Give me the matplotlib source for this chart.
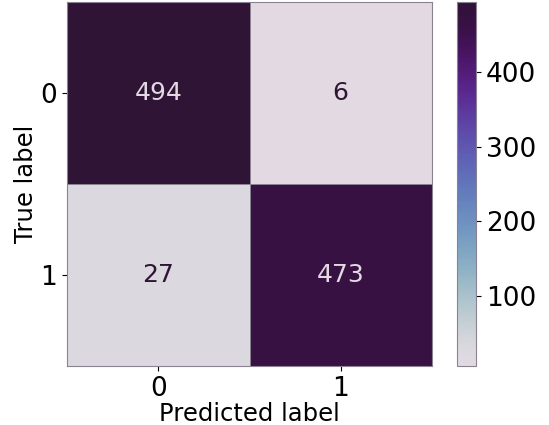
import numpy as np
import matplotlib
matplotlib.use("Agg")
import matplotlib.pyplot as plt
from matplotlib.colors import LinearSegmentedColormap

# confusion matrix values (rows = true, cols = predicted)
labels = ["0", "1"]
cm = np.array([[494, 6],
               [27, 473]])
cbar_ticks = [100, 200, 300, 400]

# first half of "twilight": light lavender -> blue -> dark purple
base = plt.get_cmap("twilight")
cmap = LinearSegmentedColormap.from_list("twilight_half", base(np.linspace(0, 0.5, 256)))

plt.rcParams["font.size"] = 17.5

fig = plt.figure(figsize=(5.49, 4.25), dpi=100)
ax = fig.add_axes([67 / 549, 1 - 366 / 425, 365 / 549, 364 / 425])
cax = fig.add_axes([457 / 549, 1 - 366 / 425, 19 / 549, 364 / 425])

mesh = ax.pcolormesh(np.arange(3) - 0.5, np.arange(3) - 0.5, cm, cmap=cmap,
                     vmin=cm.min(), vmax=cm.max(), edgecolor="#8a8290", linewidth=0.7)
ax.set_xlim(-0.5, 1.5)
ax.set_ylim(1.5, -0.5)

thresh = (cm.max() + cm.min()) / 2
for i in range(2):
    for j in range(2):
        col = cmap(0.0) if cm[i, j] > thresh else cmap(1.0)
        ax.text(j, i, str(cm[i, j]), ha="center", va="center", color=col, fontsize=18)

ax.set_xticks(range(2), labels)
ax.set_yticks(range(2), labels)
ax.tick_params(labelsize=19)
ax.set_xlabel("Predicted label", labelpad=0)
ax.set_ylabel("True label", labelpad=2)
for s in ax.spines.values():
    s.set_edgecolor("#8a8290")

cb = fig.colorbar(mesh, cax=cax)
cb.set_ticks(cbar_ticks)
cb.ax.tick_params(labelsize=19)
cb.outline.set_edgecolor("#8a8290")

fig.savefig("out.png", dpi=100)
